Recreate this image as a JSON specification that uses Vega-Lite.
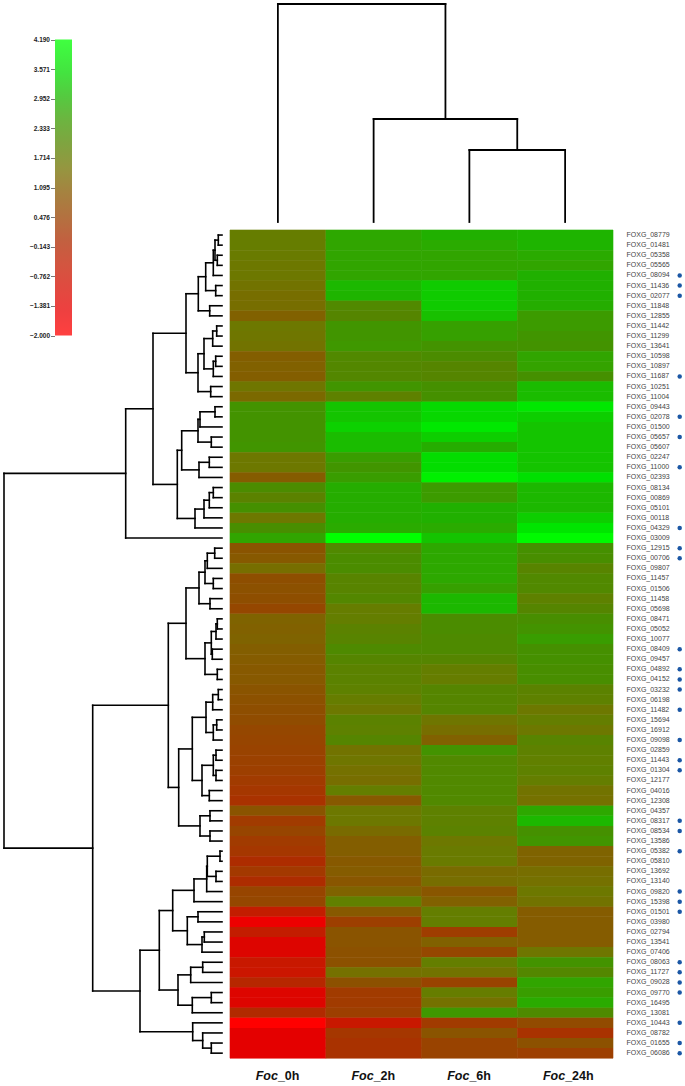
{"$schema":"https://vega.github.io/schema/vega-lite/v6.json","width":685,"height":1086,"padding":0,"autosize":{"type":"none"},"background":"white","config":{"view":{"stroke":null},"font":"Liberation Sans"},
"datasets":{
"cells":[
{"gene":"FOXG_08779","sample":"Foc_0h","value":1.7},{"gene":"FOXG_08779","sample":"Foc_2h","value":2.75},{"gene":"FOXG_08779","sample":"Foc_6h","value":2.9},{"gene":"FOXG_08779","sample":"Foc_24h","value":2.95},
{"gene":"FOXG_01481","sample":"Foc_0h","value":1.7},{"gene":"FOXG_01481","sample":"Foc_2h","value":2.7},{"gene":"FOXG_01481","sample":"Foc_6h","value":2.8},{"gene":"FOXG_01481","sample":"Foc_24h","value":2.95},
{"gene":"FOXG_05358","sample":"Foc_0h","value":1.65},{"gene":"FOXG_05358","sample":"Foc_2h","value":2.7},{"gene":"FOXG_05358","sample":"Foc_6h","value":2.7},{"gene":"FOXG_05358","sample":"Foc_24h","value":2.8},
{"gene":"FOXG_05565","sample":"Foc_0h","value":1.6},{"gene":"FOXG_05565","sample":"Foc_2h","value":2.7},{"gene":"FOXG_05565","sample":"Foc_6h","value":2.7},{"gene":"FOXG_05565","sample":"Foc_24h","value":2.7},
{"gene":"FOXG_08094","sample":"Foc_0h","value":1.6},{"gene":"FOXG_08094","sample":"Foc_2h","value":2.7},{"gene":"FOXG_08094","sample":"Foc_6h","value":2.7},{"gene":"FOXG_08094","sample":"Foc_24h","value":2.9},
{"gene":"FOXG_11436","sample":"Foc_0h","value":1.5},{"gene":"FOXG_11436","sample":"Foc_2h","value":3.0},{"gene":"FOXG_11436","sample":"Foc_6h","value":3.25},{"gene":"FOXG_11436","sample":"Foc_24h","value":2.9},
{"gene":"FOXG_02077","sample":"Foc_0h","value":1.4},{"gene":"FOXG_02077","sample":"Foc_2h","value":2.95},{"gene":"FOXG_02077","sample":"Foc_6h","value":3.25},{"gene":"FOXG_02077","sample":"Foc_24h","value":2.9},
{"gene":"FOXG_11848","sample":"Foc_0h","value":1.4},{"gene":"FOXG_11848","sample":"Foc_2h","value":2.1},{"gene":"FOXG_11848","sample":"Foc_6h","value":3.25},{"gene":"FOXG_11848","sample":"Foc_24h","value":2.85},
{"gene":"FOXG_12855","sample":"Foc_0h","value":1.15},{"gene":"FOXG_12855","sample":"Foc_2h","value":2.0},{"gene":"FOXG_12855","sample":"Foc_6h","value":3.1},{"gene":"FOXG_12855","sample":"Foc_24h","value":2.5},
{"gene":"FOXG_11442","sample":"Foc_0h","value":1.6},{"gene":"FOXG_11442","sample":"Foc_2h","value":2.4},{"gene":"FOXG_11442","sample":"Foc_6h","value":2.6},{"gene":"FOXG_11442","sample":"Foc_24h","value":2.5},
{"gene":"FOXG_11299","sample":"Foc_0h","value":1.55},{"gene":"FOXG_11299","sample":"Foc_2h","value":2.4},{"gene":"FOXG_11299","sample":"Foc_6h","value":2.6},{"gene":"FOXG_11299","sample":"Foc_24h","value":2.4},
{"gene":"FOXG_13641","sample":"Foc_0h","value":1.5},{"gene":"FOXG_13641","sample":"Foc_2h","value":2.45},{"gene":"FOXG_13641","sample":"Foc_6h","value":2.35},{"gene":"FOXG_13641","sample":"Foc_24h","value":2.35},
{"gene":"FOXG_10598","sample":"Foc_0h","value":1.1},{"gene":"FOXG_10598","sample":"Foc_2h","value":2.1},{"gene":"FOXG_10598","sample":"Foc_6h","value":2.2},{"gene":"FOXG_10598","sample":"Foc_24h","value":2.7},
{"gene":"FOXG_10897","sample":"Foc_0h","value":1.15},{"gene":"FOXG_10897","sample":"Foc_2h","value":2.05},{"gene":"FOXG_10897","sample":"Foc_6h","value":2.0},{"gene":"FOXG_10897","sample":"Foc_24h","value":2.65},
{"gene":"FOXG_11687","sample":"Foc_0h","value":1.1},{"gene":"FOXG_11687","sample":"Foc_2h","value":2.05},{"gene":"FOXG_11687","sample":"Foc_6h","value":2.0},{"gene":"FOXG_11687","sample":"Foc_24h","value":2.3},
{"gene":"FOXG_10251","sample":"Foc_0h","value":1.55},{"gene":"FOXG_10251","sample":"Foc_2h","value":2.4},{"gene":"FOXG_10251","sample":"Foc_6h","value":2.3},{"gene":"FOXG_10251","sample":"Foc_24h","value":3.05},
{"gene":"FOXG_11004","sample":"Foc_0h","value":1.3},{"gene":"FOXG_11004","sample":"Foc_2h","value":1.85},{"gene":"FOXG_11004","sample":"Foc_6h","value":2.3},{"gene":"FOXG_11004","sample":"Foc_24h","value":3.05},
{"gene":"FOXG_09443","sample":"Foc_0h","value":2.35},{"gene":"FOXG_09443","sample":"Foc_2h","value":3.15},{"gene":"FOXG_09443","sample":"Foc_6h","value":3.5},{"gene":"FOXG_09443","sample":"Foc_24h","value":3.75},
{"gene":"FOXG_02078","sample":"Foc_0h","value":2.35},{"gene":"FOXG_02078","sample":"Foc_2h","value":3.15},{"gene":"FOXG_02078","sample":"Foc_6h","value":3.45},{"gene":"FOXG_02078","sample":"Foc_24h","value":3.3},
{"gene":"FOXG_01500","sample":"Foc_0h","value":2.35},{"gene":"FOXG_01500","sample":"Foc_2h","value":3.35},{"gene":"FOXG_01500","sample":"Foc_6h","value":3.75},{"gene":"FOXG_01500","sample":"Foc_24h","value":3.15},
{"gene":"FOXG_05657","sample":"Foc_0h","value":2.35},{"gene":"FOXG_05657","sample":"Foc_2h","value":3.05},{"gene":"FOXG_05657","sample":"Foc_6h","value":3.3},{"gene":"FOXG_05657","sample":"Foc_24h","value":3.15},
{"gene":"FOXG_05607","sample":"Foc_0h","value":2.4},{"gene":"FOXG_05607","sample":"Foc_2h","value":3.05},{"gene":"FOXG_05607","sample":"Foc_6h","value":2.85},{"gene":"FOXG_05607","sample":"Foc_24h","value":3.15},
{"gene":"FOXG_02247","sample":"Foc_0h","value":1.6},{"gene":"FOXG_02247","sample":"Foc_2h","value":2.55},{"gene":"FOXG_02247","sample":"Foc_6h","value":3.55},{"gene":"FOXG_02247","sample":"Foc_24h","value":3.15},
{"gene":"FOXG_11000","sample":"Foc_0h","value":1.6},{"gene":"FOXG_11000","sample":"Foc_2h","value":2.4},{"gene":"FOXG_11000","sample":"Foc_6h","value":3.55},{"gene":"FOXG_11000","sample":"Foc_24h","value":3.15},
{"gene":"FOXG_02393","sample":"Foc_0h","value":1.05},{"gene":"FOXG_02393","sample":"Foc_2h","value":2.55},{"gene":"FOXG_02393","sample":"Foc_6h","value":3.9},{"gene":"FOXG_02393","sample":"Foc_24h","value":3.6},
{"gene":"FOXG_08134","sample":"Foc_0h","value":2.2},{"gene":"FOXG_08134","sample":"Foc_2h","value":2.85},{"gene":"FOXG_08134","sample":"Foc_6h","value":2.5},{"gene":"FOXG_08134","sample":"Foc_24h","value":3.0},
{"gene":"FOXG_00869","sample":"Foc_0h","value":1.9},{"gene":"FOXG_00869","sample":"Foc_2h","value":2.85},{"gene":"FOXG_00869","sample":"Foc_6h","value":2.5},{"gene":"FOXG_00869","sample":"Foc_24h","value":3.0},
{"gene":"FOXG_05101","sample":"Foc_0h","value":2.3},{"gene":"FOXG_05101","sample":"Foc_2h","value":2.85},{"gene":"FOXG_05101","sample":"Foc_6h","value":2.9},{"gene":"FOXG_05101","sample":"Foc_24h","value":3.0},
{"gene":"FOXG_00118","sample":"Foc_0h","value":1.6},{"gene":"FOXG_00118","sample":"Foc_2h","value":2.85},{"gene":"FOXG_00118","sample":"Foc_6h","value":2.9},{"gene":"FOXG_00118","sample":"Foc_24h","value":3.3},
{"gene":"FOXG_04329","sample":"Foc_0h","value":2.25},{"gene":"FOXG_04329","sample":"Foc_2h","value":2.8},{"gene":"FOXG_04329","sample":"Foc_6h","value":2.8},{"gene":"FOXG_04329","sample":"Foc_24h","value":3.7},
{"gene":"FOXG_03009","sample":"Foc_0h","value":2.7},{"gene":"FOXG_03009","sample":"Foc_2h","value":4.19},{"gene":"FOXG_03009","sample":"Foc_6h","value":3.15},{"gene":"FOXG_03009","sample":"Foc_24h","value":4.1},
{"gene":"FOXG_12915","sample":"Foc_0h","value":0.9},{"gene":"FOXG_12915","sample":"Foc_2h","value":2.1},{"gene":"FOXG_12915","sample":"Foc_6h","value":2.75},{"gene":"FOXG_12915","sample":"Foc_24h","value":2.3},
{"gene":"FOXG_00706","sample":"Foc_0h","value":1.0},{"gene":"FOXG_00706","sample":"Foc_2h","value":2.2},{"gene":"FOXG_00706","sample":"Foc_6h","value":2.75},{"gene":"FOXG_00706","sample":"Foc_24h","value":2.25},
{"gene":"FOXG_09807","sample":"Foc_0h","value":1.4},{"gene":"FOXG_09807","sample":"Foc_2h","value":2.2},{"gene":"FOXG_09807","sample":"Foc_6h","value":2.75},{"gene":"FOXG_09807","sample":"Foc_24h","value":1.95},
{"gene":"FOXG_11457","sample":"Foc_0h","value":0.8},{"gene":"FOXG_11457","sample":"Foc_2h","value":1.95},{"gene":"FOXG_11457","sample":"Foc_6h","value":2.75},{"gene":"FOXG_11457","sample":"Foc_24h","value":2.1},
{"gene":"FOXG_01506","sample":"Foc_0h","value":0.85},{"gene":"FOXG_01506","sample":"Foc_2h","value":1.95},{"gene":"FOXG_01506","sample":"Foc_6h","value":2.6},{"gene":"FOXG_01506","sample":"Foc_24h","value":2.1},
{"gene":"FOXG_11458","sample":"Foc_0h","value":0.8},{"gene":"FOXG_11458","sample":"Foc_2h","value":2.05},{"gene":"FOXG_11458","sample":"Foc_6h","value":3.0},{"gene":"FOXG_11458","sample":"Foc_24h","value":1.85},
{"gene":"FOXG_05698","sample":"Foc_0h","value":0.6},{"gene":"FOXG_05698","sample":"Foc_2h","value":1.7},{"gene":"FOXG_05698","sample":"Foc_6h","value":3.0},{"gene":"FOXG_05698","sample":"Foc_24h","value":2.0},
{"gene":"FOXG_08471","sample":"Foc_0h","value":1.2},{"gene":"FOXG_08471","sample":"Foc_2h","value":1.75},{"gene":"FOXG_08471","sample":"Foc_6h","value":2.2},{"gene":"FOXG_08471","sample":"Foc_24h","value":2.25},
{"gene":"FOXG_05052","sample":"Foc_0h","value":1.15},{"gene":"FOXG_05052","sample":"Foc_2h","value":1.9},{"gene":"FOXG_05052","sample":"Foc_6h","value":2.2},{"gene":"FOXG_05052","sample":"Foc_24h","value":2.35},
{"gene":"FOXG_10077","sample":"Foc_0h","value":1.2},{"gene":"FOXG_10077","sample":"Foc_2h","value":1.95},{"gene":"FOXG_10077","sample":"Foc_6h","value":2.15},{"gene":"FOXG_10077","sample":"Foc_24h","value":2.55},
{"gene":"FOXG_08409","sample":"Foc_0h","value":1.1},{"gene":"FOXG_08409","sample":"Foc_2h","value":2.15},{"gene":"FOXG_08409","sample":"Foc_6h","value":2.15},{"gene":"FOXG_08409","sample":"Foc_24h","value":2.3},
{"gene":"FOXG_09457","sample":"Foc_0h","value":1.05},{"gene":"FOXG_09457","sample":"Foc_2h","value":2.0},{"gene":"FOXG_09457","sample":"Foc_6h","value":2.0},{"gene":"FOXG_09457","sample":"Foc_24h","value":2.3},
{"gene":"FOXG_04892","sample":"Foc_0h","value":1.0},{"gene":"FOXG_04892","sample":"Foc_2h","value":1.9},{"gene":"FOXG_04892","sample":"Foc_6h","value":1.75},{"gene":"FOXG_04892","sample":"Foc_24h","value":2.25},
{"gene":"FOXG_04152","sample":"Foc_0h","value":1.0},{"gene":"FOXG_04152","sample":"Foc_2h","value":1.9},{"gene":"FOXG_04152","sample":"Foc_6h","value":1.7},{"gene":"FOXG_04152","sample":"Foc_24h","value":2.25},
{"gene":"FOXG_03232","sample":"Foc_0h","value":0.9},{"gene":"FOXG_03232","sample":"Foc_2h","value":1.85},{"gene":"FOXG_03232","sample":"Foc_6h","value":2.0},{"gene":"FOXG_03232","sample":"Foc_24h","value":1.9},
{"gene":"FOXG_06198","sample":"Foc_0h","value":0.85},{"gene":"FOXG_06198","sample":"Foc_2h","value":1.7},{"gene":"FOXG_06198","sample":"Foc_6h","value":2.0},{"gene":"FOXG_06198","sample":"Foc_24h","value":1.85},
{"gene":"FOXG_11482","sample":"Foc_0h","value":0.8},{"gene":"FOXG_11482","sample":"Foc_2h","value":1.6},{"gene":"FOXG_11482","sample":"Foc_6h","value":2.0},{"gene":"FOXG_11482","sample":"Foc_24h","value":1.6},
{"gene":"FOXG_15694","sample":"Foc_0h","value":0.75},{"gene":"FOXG_15694","sample":"Foc_2h","value":1.9},{"gene":"FOXG_15694","sample":"Foc_6h","value":1.55},{"gene":"FOXG_15694","sample":"Foc_24h","value":1.75},
{"gene":"FOXG_16912","sample":"Foc_0h","value":0.6},{"gene":"FOXG_16912","sample":"Foc_2h","value":1.85},{"gene":"FOXG_16912","sample":"Foc_6h","value":1.4},{"gene":"FOXG_16912","sample":"Foc_24h","value":1.6},
{"gene":"FOXG_09098","sample":"Foc_0h","value":0.55},{"gene":"FOXG_09098","sample":"Foc_2h","value":2.0},{"gene":"FOXG_09098","sample":"Foc_6h","value":1.15},{"gene":"FOXG_09098","sample":"Foc_24h","value":1.95},
{"gene":"FOXG_02859","sample":"Foc_0h","value":0.5},{"gene":"FOXG_02859","sample":"Foc_2h","value":1.5},{"gene":"FOXG_02859","sample":"Foc_6h","value":2.35},{"gene":"FOXG_02859","sample":"Foc_24h","value":1.85},
{"gene":"FOXG_11443","sample":"Foc_0h","value":0.45},{"gene":"FOXG_11443","sample":"Foc_2h","value":1.55},{"gene":"FOXG_11443","sample":"Foc_6h","value":2.1},{"gene":"FOXG_11443","sample":"Foc_24h","value":1.8},
{"gene":"FOXG_01304","sample":"Foc_0h","value":0.4},{"gene":"FOXG_01304","sample":"Foc_2h","value":1.45},{"gene":"FOXG_01304","sample":"Foc_6h","value":2.1},{"gene":"FOXG_01304","sample":"Foc_24h","value":1.85},
{"gene":"FOXG_12177","sample":"Foc_0h","value":0.3},{"gene":"FOXG_12177","sample":"Foc_2h","value":1.4},{"gene":"FOXG_12177","sample":"Foc_6h","value":2.1},{"gene":"FOXG_12177","sample":"Foc_24h","value":1.75},
{"gene":"FOXG_04016","sample":"Foc_0h","value":0.2},{"gene":"FOXG_04016","sample":"Foc_2h","value":1.75},{"gene":"FOXG_04016","sample":"Foc_6h","value":2.1},{"gene":"FOXG_04016","sample":"Foc_24h","value":1.5},
{"gene":"FOXG_12308","sample":"Foc_0h","value":0.1},{"gene":"FOXG_12308","sample":"Foc_2h","value":1.0},{"gene":"FOXG_12308","sample":"Foc_6h","value":2.1},{"gene":"FOXG_12308","sample":"Foc_24h","value":1.45},
{"gene":"FOXG_04357","sample":"Foc_0h","value":0.9},{"gene":"FOXG_04357","sample":"Foc_2h","value":1.6},{"gene":"FOXG_04357","sample":"Foc_6h","value":1.85},{"gene":"FOXG_04357","sample":"Foc_24h","value":2.75},
{"gene":"FOXG_08317","sample":"Foc_0h","value":0.3},{"gene":"FOXG_08317","sample":"Foc_2h","value":1.6},{"gene":"FOXG_08317","sample":"Foc_6h","value":1.85},{"gene":"FOXG_08317","sample":"Foc_24h","value":3.0},
{"gene":"FOXG_08534","sample":"Foc_0h","value":0.55},{"gene":"FOXG_08534","sample":"Foc_2h","value":1.35},{"gene":"FOXG_08534","sample":"Foc_6h","value":1.9},{"gene":"FOXG_08534","sample":"Foc_24h","value":2.3},
{"gene":"FOXG_13586","sample":"Foc_0h","value":0.3},{"gene":"FOXG_13586","sample":"Foc_2h","value":1.1},{"gene":"FOXG_13586","sample":"Foc_6h","value":1.6},{"gene":"FOXG_13586","sample":"Foc_24h","value":2.4},
{"gene":"FOXG_05382","sample":"Foc_0h","value":0.2},{"gene":"FOXG_05382","sample":"Foc_2h","value":1.1},{"gene":"FOXG_05382","sample":"Foc_6h","value":1.65},{"gene":"FOXG_05382","sample":"Foc_24h","value":1.2},
{"gene":"FOXG_05810","sample":"Foc_0h","value":0.0},{"gene":"FOXG_05810","sample":"Foc_2h","value":1.0},{"gene":"FOXG_05810","sample":"Foc_6h","value":1.65},{"gene":"FOXG_05810","sample":"Foc_24h","value":1.2},
{"gene":"FOXG_13692","sample":"Foc_0h","value":0.25},{"gene":"FOXG_13692","sample":"Foc_2h","value":1.05},{"gene":"FOXG_13692","sample":"Foc_6h","value":1.35},{"gene":"FOXG_13692","sample":"Foc_24h","value":1.4},
{"gene":"FOXG_13140","sample":"Foc_0h","value":0.0},{"gene":"FOXG_13140","sample":"Foc_2h","value":0.95},{"gene":"FOXG_13140","sample":"Foc_6h","value":1.4},{"gene":"FOXG_13140","sample":"Foc_24h","value":1.45},
{"gene":"FOXG_09820","sample":"Foc_0h","value":0.55},{"gene":"FOXG_09820","sample":"Foc_2h","value":1.2},{"gene":"FOXG_09820","sample":"Foc_6h","value":0.95},{"gene":"FOXG_09820","sample":"Foc_24h","value":1.6},
{"gene":"FOXG_15398","sample":"Foc_0h","value":0.6},{"gene":"FOXG_15398","sample":"Foc_2h","value":1.8},{"gene":"FOXG_15398","sample":"Foc_6h","value":1.15},{"gene":"FOXG_15398","sample":"Foc_24h","value":1.5},
{"gene":"FOXG_01501","sample":"Foc_0h","value":-0.5},{"gene":"FOXG_01501","sample":"Foc_2h","value":1.0},{"gene":"FOXG_01501","sample":"Foc_6h","value":1.75},{"gene":"FOXG_01501","sample":"Foc_24h","value":1.05},
{"gene":"FOXG_03980","sample":"Foc_0h","value":-1.6},{"gene":"FOXG_03980","sample":"Foc_2h","value":0.4},{"gene":"FOXG_03980","sample":"Foc_6h","value":1.75},{"gene":"FOXG_03980","sample":"Foc_24h","value":1.05},
{"gene":"FOXG_02794","sample":"Foc_0h","value":-0.5},{"gene":"FOXG_02794","sample":"Foc_2h","value":0.9},{"gene":"FOXG_02794","sample":"Foc_6h","value":0.35},{"gene":"FOXG_02794","sample":"Foc_24h","value":1.05},
{"gene":"FOXG_13541","sample":"Foc_0h","value":-1.2},{"gene":"FOXG_13541","sample":"Foc_2h","value":0.9},{"gene":"FOXG_13541","sample":"Foc_6h","value":1.15},{"gene":"FOXG_13541","sample":"Foc_24h","value":1.05},
{"gene":"FOXG_07406","sample":"Foc_0h","value":-1.2},{"gene":"FOXG_07406","sample":"Foc_2h","value":0.85},{"gene":"FOXG_07406","sample":"Foc_6h","value":0.6},{"gene":"FOXG_07406","sample":"Foc_24h","value":1.55},
{"gene":"FOXG_08063","sample":"Foc_0h","value":-0.6},{"gene":"FOXG_08063","sample":"Foc_2h","value":0.85},{"gene":"FOXG_08063","sample":"Foc_6h","value":1.75},{"gene":"FOXG_08063","sample":"Foc_24h","value":2.35},
{"gene":"FOXG_11727","sample":"Foc_0h","value":-0.7},{"gene":"FOXG_11727","sample":"Foc_2h","value":1.45},{"gene":"FOXG_11727","sample":"Foc_6h","value":1.5},{"gene":"FOXG_11727","sample":"Foc_24h","value":2.05},
{"gene":"FOXG_09028","sample":"Foc_0h","value":-0.2},{"gene":"FOXG_09028","sample":"Foc_2h","value":0.85},{"gene":"FOXG_09028","sample":"Foc_6h","value":0.5},{"gene":"FOXG_09028","sample":"Foc_24h","value":2.7},
{"gene":"FOXG_09770","sample":"Foc_0h","value":-1.2},{"gene":"FOXG_09770","sample":"Foc_2h","value":0.3},{"gene":"FOXG_09770","sample":"Foc_6h","value":1.7},{"gene":"FOXG_09770","sample":"Foc_24h","value":2.55},
{"gene":"FOXG_16495","sample":"Foc_0h","value":-1.2},{"gene":"FOXG_16495","sample":"Foc_2h","value":0.3},{"gene":"FOXG_16495","sample":"Foc_6h","value":1.45},{"gene":"FOXG_16495","sample":"Foc_24h","value":2.8},
{"gene":"FOXG_13081","sample":"Foc_0h","value":-0.1},{"gene":"FOXG_13081","sample":"Foc_2h","value":0.4},{"gene":"FOXG_13081","sample":"Foc_6h","value":2.45},{"gene":"FOXG_13081","sample":"Foc_24h","value":2.15},
{"gene":"FOXG_10443","sample":"Foc_0h","value":-2},{"gene":"FOXG_10443","sample":"Foc_2h","value":-0.6},{"gene":"FOXG_10443","sample":"Foc_6h","value":0.3},{"gene":"FOXG_10443","sample":"Foc_24h","value":0.7},
{"gene":"FOXG_08782","sample":"Foc_0h","value":-1.4},{"gene":"FOXG_08782","sample":"Foc_2h","value":0.2},{"gene":"FOXG_08782","sample":"Foc_6h","value":0.9},{"gene":"FOXG_08782","sample":"Foc_24h","value":0.1},
{"gene":"FOXG_01655","sample":"Foc_0h","value":-1.4},{"gene":"FOXG_01655","sample":"Foc_2h","value":0.1},{"gene":"FOXG_01655","sample":"Foc_6h","value":0.5},{"gene":"FOXG_01655","sample":"Foc_24h","value":0.85},
{"gene":"FOXG_06086","sample":"Foc_0h","value":-1.4},{"gene":"FOXG_06086","sample":"Foc_2h","value":0.1},{"gene":"FOXG_06086","sample":"Foc_6h","value":0.5},{"gene":"FOXG_06086","sample":"Foc_24h","value":0.4}
],
"marked":[{"leaf":5,"mark":"validated"},{"leaf":6,"mark":"validated"},{"leaf":7,"mark":"validated"},{"leaf":15,"mark":"validated"},{"leaf":19,"mark":"validated"},{"leaf":21,"mark":"validated"},{"leaf":24,"mark":"validated"},{"leaf":30,"mark":"validated"},{"leaf":32,"mark":"validated"},{"leaf":33,"mark":"validated"},{"leaf":42,"mark":"validated"},{"leaf":44,"mark":"validated"},{"leaf":45,"mark":"validated"},{"leaf":46,"mark":"validated"},{"leaf":48,"mark":"validated"},{"leaf":51,"mark":"validated"},{"leaf":53,"mark":"validated"},{"leaf":54,"mark":"validated"},{"leaf":59,"mark":"validated"},{"leaf":60,"mark":"validated"},{"leaf":62,"mark":"validated"},{"leaf":66,"mark":"validated"},{"leaf":67,"mark":"validated"},{"leaf":68,"mark":"validated"},{"leaf":73,"mark":"validated"},{"leaf":74,"mark":"validated"},{"leaf":75,"mark":"validated"},{"leaf":76,"mark":"validated"},{"leaf":79,"mark":"validated"},{"leaf":81,"mark":"validated"},{"leaf":82,"mark":"validated"}],
"samples":[{"sample":"Foc_0h","species":"Foc","time":"_0h","row":"label"},{"sample":"Foc_2h","species":"Foc","time":"_2h","row":"label"},{"sample":"Foc_6h","species":"Foc","time":"_6h","row":"label"},{"sample":"Foc_24h","species":"Foc","time":"_24h","row":"label"}],
"ticks":[{"value":4.19},{"value":3.571},{"value":2.952},{"value":2.333},{"value":1.714},{"value":1.095},{"value":0.476},{"value":-0.143},{"value":-0.762},{"value":-1.381},{"value":-2}],
"colTree":[{"h":72,"a":3,"b":4,"ha":0,"hb":0},{"h":103,"a":2,"b":3.5,"ha":0,"hb":72},{"h":218,"a":1,"b":2.75,"ha":0,"hb":103}],
"rowTree":[
{"h":3.7,"a":1,"b":2,"ha":0,"hb":0},{"h":4.7,"a":3,"b":4,"ha":0,"hb":0},{"h":7,"a":1.5,"b":3.5,"ha":3.7,"hb":4.7},{"h":8.7,"a":2.5,"b":5,"ha":7,"hb":0},{"h":6.3,"a":6,"b":7,"ha":0,"hb":0},{"h":16.3,"a":3.75,"b":6.5,"ha":8.7,"hb":6.3},{"h":12.3,"a":8,"b":9,"ha":0,"hb":0},{"h":23.7,"a":5.125,"b":8.5,"ha":16.3,"hb":12.3},
{"h":5.3,"a":10,"b":11,"ha":0,"hb":0},{"h":9.3,"a":10.5,"b":12,"ha":5.3,"hb":0},{"h":6.3,"a":13,"b":14,"ha":0,"hb":0},{"h":8.7,"a":13.5,"b":15,"ha":6.3,"hb":0},{"h":18,"a":11.25,"b":14.25,"ha":9.3,"hb":8.7},{"h":11.3,"a":16,"b":17,"ha":0,"hb":0},{"h":24,"a":12.75,"b":16.5,"ha":18,"hb":11.3},{"h":36,"a":6.81,"b":14.63,"ha":23.7,"hb":24},
{"h":7,"a":18,"b":19,"ha":0,"hb":0},{"h":22,"a":18.5,"b":20,"ha":7,"hb":0},{"h":10.7,"a":21,"b":22,"ha":0,"hb":0},{"h":24,"a":19.25,"b":21.5,"ha":22,"hb":10.7},{"h":12.7,"a":23,"b":24,"ha":0,"hb":0},{"h":23,"a":23.5,"b":25,"ha":12.7,"hb":0},{"h":40.3,"a":20.38,"b":24.25,"ha":24,"hb":23},{"h":8.7,"a":26,"b":27,"ha":0,"hb":0},{"h":12.7,"a":26.5,"b":28,"ha":8.7,"hb":0},{"h":18,"a":27.25,"b":29,"ha":12.7,"hb":0},{"h":27,"a":28.13,"b":30,"ha":18,"hb":0},{"h":44.7,"a":22.31,"b":29.06,"ha":40.3,"hb":27},{"h":69,"a":10.72,"b":25.69,"ha":36,"hb":44.7},{"h":96.3,"a":18.2,"b":31,"ha":69,"hb":0},
{"h":7.3,"a":32,"b":33,"ha":0,"hb":0},{"h":14.7,"a":32.5,"b":34,"ha":7.3,"hb":0},{"h":8.7,"a":35,"b":36,"ha":0,"hb":0},{"h":17,"a":33.25,"b":35.5,"ha":14.7,"hb":8.7},{"h":12,"a":37,"b":38,"ha":0,"hb":0},{"h":23,"a":34.38,"b":37.5,"ha":17,"hb":12},
{"h":4.7,"a":39,"b":40,"ha":0,"hb":0},{"h":6,"a":39.5,"b":41,"ha":4.7,"hb":0},{"h":9.7,"a":42,"b":43,"ha":0,"hb":0},{"h":10.7,"a":40.25,"b":42.5,"ha":6,"hb":9.7},{"h":4.7,"a":44,"b":45,"ha":0,"hb":0},{"h":17,"a":41.38,"b":44.5,"ha":10.7,"hb":4.7},{"h":36,"a":35.94,"b":42.94,"ha":23,"hb":17},
{"h":3.7,"a":46,"b":47,"ha":0,"hb":0},{"h":9.3,"a":46.5,"b":48,"ha":3.7,"hb":0},{"h":5.3,"a":49,"b":50,"ha":0,"hb":0},{"h":8.7,"a":49.5,"b":51,"ha":5.3,"hb":0},{"h":16,"a":47.25,"b":50.25,"ha":9.3,"hb":8.7},{"h":6,"a":52,"b":53,"ha":0,"hb":0},{"h":6,"a":54,"b":55,"ha":0,"hb":0},{"h":8.7,"a":52.5,"b":54.5,"ha":6,"hb":6},{"h":12.7,"a":56,"b":57,"ha":0,"hb":0},{"h":20,"a":53.5,"b":56.5,"ha":8.7,"hb":12.7},{"h":29.7,"a":48.75,"b":55,"ha":16,"hb":20},
{"h":12,"a":58,"b":59,"ha":0,"hb":0},{"h":12,"a":60,"b":61,"ha":0,"hb":0},{"h":22,"a":58.5,"b":60.5,"ha":12,"hb":12},{"h":43.3,"a":51.88,"b":59.5,"ha":29.7,"hb":22},{"h":53.7,"a":39.44,"b":55.69,"ha":36,"hb":43.3},
{"h":2,"a":62,"b":63,"ha":0,"hb":0},{"h":6,"a":64,"b":65,"ha":0,"hb":0},{"h":14.7,"a":62.5,"b":64.5,"ha":2,"hb":6},{"h":15.3,"a":63.5,"b":66,"ha":14.7,"hb":0},{"h":28,"a":64.75,"b":67,"ha":15.3,"hb":0},{"h":24,"a":68,"b":69,"ha":0,"hb":0},{"h":17.7,"a":70,"b":71,"ha":0,"hb":0},{"h":20,"a":70.5,"b":72,"ha":17.7,"hb":0},{"h":34.7,"a":68.5,"b":71.25,"ha":24,"hb":20},{"h":49.3,"a":65.88,"b":69.88,"ha":28,"hb":34.7},
{"h":19.3,"a":73,"b":74,"ha":0,"hb":0},{"h":31.3,"a":73.5,"b":75,"ha":19.3,"hb":0},{"h":10.7,"a":76,"b":77,"ha":0,"hb":0},{"h":29.7,"a":76.5,"b":78,"ha":10.7,"hb":0},{"h":44,"a":74.25,"b":77.25,"ha":31.3,"hb":29.7},{"h":62.7,"a":67.88,"b":75.75,"ha":49.3,"hb":44},
{"h":10.7,"a":81,"b":82,"ha":0,"hb":0},{"h":19.3,"a":80,"b":81.5,"ha":0,"hb":10.7},{"h":29.3,"a":79,"b":80.75,"ha":0,"hb":19.3},{"h":82,"a":71.81,"b":79.88,"ha":62.7,"hb":29.3},{"h":129.3,"a":47.56,"b":75.84,"ha":53.7,"hb":82},{"h":218,"a":24.6,"b":61.7,"ha":96.3,"hb":129.3}
]},
"resolve":{"scale":{"x":"independent","y":"independent","stroke":"independent","color":"independent"},"axis":{"x":"independent","y":"independent"}},
"layer":[
{"data":{"name":"cells"},"mark":{"type":"rect","fillOpacity":0,"strokeWidth":0.6},"encoding":{
"x":{"field":"sample","type":"nominal","sort":null,"axis":null,"scale":{"type":"band","range":[230,613],"paddingInner":0,"paddingOuter":0}},
"y":{"field":"gene","type":"nominal","sort":null,"axis":null,"scale":{"type":"band","range":[230,1058.2],"paddingInner":0,"paddingOuter":0}},
"stroke":{"field":"value","type":"quantitative","legend":null,"scale":{"domain":[-2,-1.3,-0.6,0,0.4,0.8,1.1,1.4,1.7,2,2.3,2.6,2.9,3.2,3.6,4.19],"range":["#ff0000","#e00000","#c81800","#ad2c00","#9d3f00","#8e4e00","#835e00","#776e00","#667d00","#558500","#459000","#36a000","#20b000","#10c800","#00e000","#00ff00"]}}
}},
{"data":{"name":"cells"},"mark":{"type":"rect"},"encoding":{
"x":{"field":"sample","type":"nominal","sort":null,"axis":null,"scale":{"type":"band","range":[230,613],"paddingInner":0,"paddingOuter":0}},
"y":{"field":"gene","type":"nominal","sort":null,"title":null,"scale":{"type":"band","range":[230,1058.2],"paddingInner":0,"paddingOuter":0},"axis":{"orient":"right","offset":-59,"domain":false,"ticks":false,"grid":false,"labelPadding":0,"labelFontSize":7,"labelColor":"#444444","labelFont":"Liberation Sans","labelOverlap":false,"title":null}},
"color":{"field":"value","type":"quantitative","scale":{"domain":[-2,-1.3,-0.6,0,0.4,0.8,1.1,1.4,1.7,2,2.3,2.6,2.9,3.2,3.6,4.19],"range":["#ff0000","#e00000","#c81800","#ad2c00","#9d3f00","#8e4e00","#835e00","#776e00","#667d00","#558500","#459000","#36a000","#20b000","#10c800","#00e000","#00ff00"]},"legend":{"type":"gradient","title":null,"orient":"none","legendX":55,"legendY":39.5,"gradientLength":296,"gradientThickness":17,"gradientOpacity":0.75,"gradientStrokeWidth":0,"values":[-2,4.19],"labelExpr":"''"}}
}},
{"data":{"name":"ticks"},"mark":{"type":"rule","opacity":0},"encoding":{
"y":{"field":"value","type":"quantitative","scale":{"domain":[-2,4.19],"range":[335.5,39.5],"nice":false,"zero":false},"axis":{"orient":"left","offset":-54.5,"title":null,"grid":false,"domain":false,"values":[4.19,3.571,2.952,2.333,1.714,1.095,0.476,-0.143,-0.762,-1.381,-2],"format":".3f","tickSize":4,"tickColor":"#555555","tickWidth":0.8,"labelPadding":1,"labelFontSize":6.5,"labelFontWeight":"bold","labelColor":"#222222","labelFont":"Liberation Sans","labelOverlap":false}}
}},
{"data":{"name":"marked"},"mark":{"type":"circle","size":20,"opacity":1,"color":"#1b57a5"},"encoding":{
"x":{"field":"mark","type":"nominal","axis":null,"scale":{"type":"point","domain":["validated"],"range":[679.7,679.7]}},
"y":{"field":"leaf","type":"quantitative","axis":null,"scale":{"domain":[0.5,82.5],"range":[230,1058.2],"nice":false,"zero":false}}
}},
{"data":{"name":"samples"},"mark":{"type":"text","align":"right","baseline":"middle","fontSize":12.5,"fontWeight":"bold","fontStyle":"italic","font":"Liberation Sans","color":"#111111"},"encoding":{
"x":{"field":"sample","type":"nominal","sort":null,"axis":null,"scale":{"type":"band","range":[230,613],"paddingInner":0,"paddingOuter":0}},
"y":{"field":"row","type":"nominal","axis":null,"scale":{"type":"point","domain":["label"],"range":[1076,1076]}},
"text":{"field":"species"}
}},
{"data":{"name":"samples"},"mark":{"type":"text","align":"left","baseline":"middle","fontSize":12.5,"fontWeight":"bold","font":"Liberation Sans","color":"#111111"},"encoding":{
"x":{"field":"sample","type":"nominal","sort":null,"axis":null,"scale":{"type":"band","range":[230,613],"paddingInner":0,"paddingOuter":0}},
"y":{"field":"row","type":"nominal","axis":null,"scale":{"type":"point","domain":["label"],"range":[1076,1076]}},
"text":{"field":"time"}
}},
{"data":{"name":"rowTree"},"mark":{"type":"rule","strokeWidth":1.6,"color":"#000000","strokeCap":"square"},"encoding":{
"x":{"field":"h","type":"quantitative","axis":null,"scale":{"domain":[0,218],"range":[222,4],"nice":false,"zero":false}},
"y":{"field":"a","type":"quantitative","axis":null,"scale":{"domain":[0.5,82.5],"range":[230,1058.2],"nice":false,"zero":false}},
"y2":{"field":"b"}
}},
{"data":{"name":"rowTree"},"mark":{"type":"rule","strokeWidth":1.6,"color":"#000000","strokeCap":"square"},"encoding":{
"x":{"field":"ha","type":"quantitative","axis":null,"scale":{"domain":[0,218],"range":[222,4],"nice":false,"zero":false}},
"x2":{"field":"h"},
"y":{"field":"a","type":"quantitative","axis":null,"scale":{"domain":[0.5,82.5],"range":[230,1058.2],"nice":false,"zero":false}}
}},
{"data":{"name":"rowTree"},"mark":{"type":"rule","strokeWidth":1.6,"color":"#000000","strokeCap":"square"},"encoding":{
"x":{"field":"hb","type":"quantitative","axis":null,"scale":{"domain":[0,218],"range":[222,4],"nice":false,"zero":false}},
"x2":{"field":"h"},
"y":{"field":"b","type":"quantitative","axis":null,"scale":{"domain":[0.5,82.5],"range":[230,1058.2],"nice":false,"zero":false}}
}},
{"data":{"name":"colTree"},"mark":{"type":"rule","strokeWidth":1.8,"color":"#000000","strokeCap":"square"},"encoding":{
"y":{"field":"h","type":"quantitative","axis":null,"scale":{"domain":[0,218],"range":[222,4],"nice":false,"zero":false}},
"x":{"field":"a","type":"quantitative","axis":null,"scale":{"domain":[0.5,4.5],"range":[230,613],"nice":false,"zero":false}},
"x2":{"field":"b"}
}},
{"data":{"name":"colTree"},"mark":{"type":"rule","strokeWidth":1.8,"color":"#000000","strokeCap":"square"},"encoding":{
"y":{"field":"ha","type":"quantitative","axis":null,"scale":{"domain":[0,218],"range":[222,4],"nice":false,"zero":false}},
"y2":{"field":"h"},
"x":{"field":"a","type":"quantitative","axis":null,"scale":{"domain":[0.5,4.5],"range":[230,613],"nice":false,"zero":false}}
}},
{"data":{"name":"colTree"},"mark":{"type":"rule","strokeWidth":1.8,"color":"#000000","strokeCap":"square"},"encoding":{
"y":{"field":"hb","type":"quantitative","axis":null,"scale":{"domain":[0,218],"range":[222,4],"nice":false,"zero":false}},
"y2":{"field":"h"},
"x":{"field":"b","type":"quantitative","axis":null,"scale":{"domain":[0.5,4.5],"range":[230,613],"nice":false,"zero":false}}
}}
]}
